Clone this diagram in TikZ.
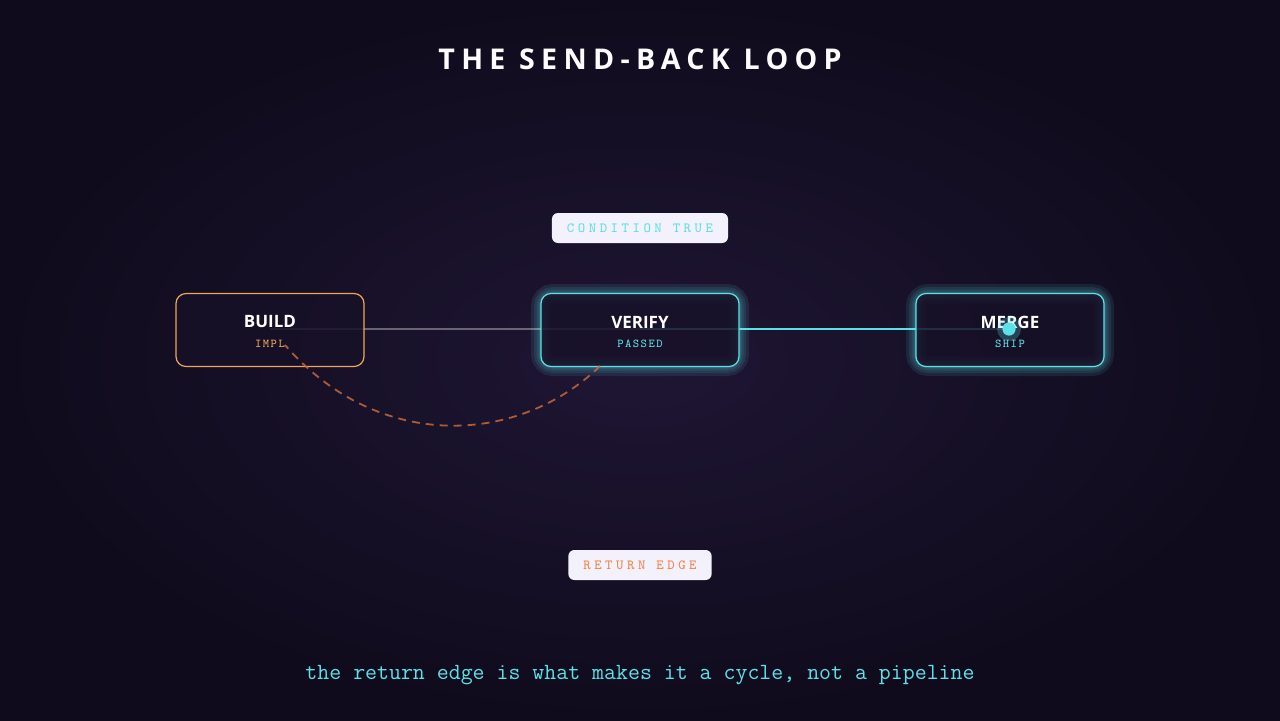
\documentclass[tikz,border=0pt]{standalone}
\usepackage{fontspec}
\setmainfont{Open Sans}
\newfontfamily\monof{Latin Modern Mono}
\usetikzlibrary{shadings}
\definecolor{bgA}{HTML}{1F1634}
\definecolor{bgB}{HTML}{0F0B1C}
\definecolor{cyanc}{HTML}{5CE1E6}
\definecolor{orangec}{HTML}{F0A65A}
\definecolor{orangedash}{HTML}{C8693A}
\definecolor{nodefill}{HTML}{171128}
\definecolor{pill}{HTML}{F3F1FB}
\begin{document}
\begin{tikzpicture}[x=0.5pt,y=-0.5pt,
  box/.style={rounded corners=5pt,minimum width=94pt,minimum height=36.5pt,fill=nodefill,fill opacity=0.85,text opacity=1,line width=0.6pt},
  glow/.style={rounded corners=6pt,draw=cyanc,line width=#1,opacity=0.1},
  title/.style={font=\bfseries\fontsize{8.5}{10}\selectfont,text=white},
  sub/.style={font=\monof\fontsize{6}{7}\selectfont\addfontfeature{LetterSpace=12}},
  tag/.style={fill=pill,rounded corners=3pt,inner xsep=7.5pt,minimum height=15pt,font=\monof\fontsize{7}{8}\selectfont\addfontfeature{LetterSpace=25}}]
\shade[inner color=bgA,outer color=bgB] (0,0) rectangle (1280,720);
\useasboundingbox (0,0) rectangle (1280,720);
\node[font=\bfseries\fontsize{14.3}{17}\selectfont\addfontfeature{LetterSpace=22},text=white] (t) at (640,59) {THE SEND-BACK LOOP};
\foreach \w in {10pt,7pt,4.5pt,2.5pt,1.5pt}{
 \draw[glow=\w] (541,294) rectangle (739,366);
 \draw[glow=\w] (916,294) rectangle (1104,366);}
\coordinate (bc) at (270,329); \coordinate (vc) at (640,329); \coordinate (mc) at (1010,329);
\draw[white,opacity=0.35,line width=0.7pt] (bc) -- (vc);
\draw[cyanc,line width=0.8pt] (vc) -- (mc);
\node[box,draw=orangec] (b) at (270,330) {};
\node[box,draw=cyanc,minimum width=99pt] (v) at (640,330) {};
\node[box,draw=cyanc] (m) at (1010,330) {};
\node[title] (bt) at (270,322) {BUILD};
\node[sub,text=orangec] (bs) at (270,344) {IMPL};
\node[title] (vt) at (640,322) {VERIFY};
\node[sub,text=cyanc] (vs) at (640,344) {PASSED};
\node[title] (mt) at (1010,322) {MERGE};
\node[sub,text=cyanc] (ms) at (1010,344) {SHIP};
\coordinate (r1) at (600,366); \coordinate (r2) at (285,345);
\draw[orangedash,opacity=0.85,dashed,dash pattern=on 4pt off 3pt,line width=0.9pt] (r1) .. controls (520,444) and (380,454) .. (r2);
\fill[cyanc,opacity=0.25] (1009,329) circle (6pt);
\fill[cyanc] (1009,329) circle (3.3pt);
\node[tag,text=cyanc] (ct) at (640,228) {CONDITION TRUE};
\node[tag,text=orangec!80!red] (re) at (640,565) {RETURN EDGE};
\node[font=\monof\fontsize{11.6}{13}\selectfont,text=cyanc] (cap) at (640,675) {the return edge is what makes it a cycle, not a pipeline};
\end{tikzpicture}
\end{document}
